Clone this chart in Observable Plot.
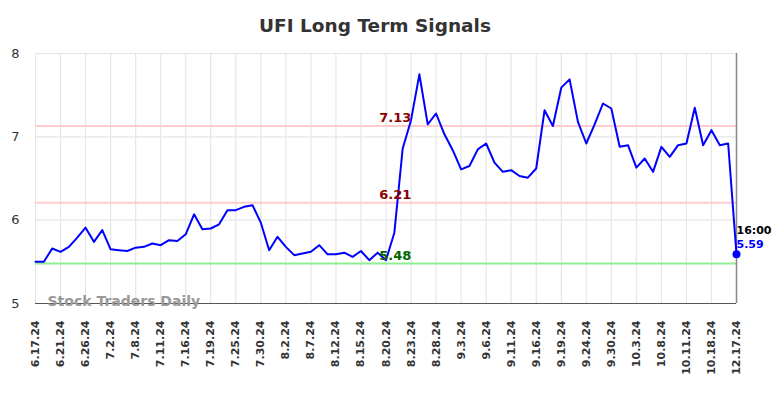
<!DOCTYPE html>
<html><head><meta charset="utf-8">
<script src="https://cdn.jsdelivr.net/npm/d3@7"></script>
<script src="https://cdn.jsdelivr.net/npm/@observablehq/plot@0.6"></script>
<style>
body{margin:0;background:#fff;font-family:"DejaVu Sans",sans-serif}
#wrap{position:relative;width:784px;height:398px}
#title{position:absolute;top:15px;left:0;width:750px;text-align:center;font-size:18.5px;font-weight:bold;color:#333;font-family:"DejaVu Sans",sans-serif}
#chart{position:absolute;top:0;left:0}
</style></head><body>
<div id="wrap"><div id="chart"></div><div id="title">UFI Long Term Signals</div></div>
<script>
const tickLabels = ["6.17.24","6.21.24","6.26.24","7.2.24","7.8.24","7.11.24","7.16.24","7.19.24","7.25.24","7.30.24","8.2.24","8.7.24","8.12.24","8.15.24","8.20.24","8.23.24","8.28.24","9.3.24","9.6.24","9.11.24","9.16.24","9.19.24","9.24.24","9.30.24","10.3.24","10.8.24","10.11.24","10.18.24","12.17.24"];
const values = [5.50,5.50,5.66,5.62,5.68,5.79,5.91,5.74,5.88,5.65,
5.64,5.63,5.67,5.68,5.72,5.70,5.76,5.75,5.83,6.07,
5.89,5.90,5.95,6.12,6.12,6.16,6.18,5.97,5.64,5.80,
5.68,5.58,5.60,5.62,5.70,5.59,5.59,5.61,5.56,5.63,
5.52,5.61,5.52,5.85,6.86,7.20,7.75,7.15,7.28,7.03,
6.84,6.61,6.65,6.85,6.92,6.69,6.58,6.60,6.53,6.51,
6.62,7.32,7.13,7.59,7.69,7.18,6.92,7.15,7.40,7.34,
6.88,6.90,6.63,6.74,6.58,6.88,6.76,6.90,6.92,7.35,
6.90,7.08,6.90,6.92,5.59];
const resistanceLevels = [7.13, 6.21];
const supportLevels = [5.48];
const yTicks = [5, 6, 7, 8];
const lastTime = "16:00";

const data = values.map((v, i) => ({i, v}));
const xTicks = tickLabels.map((_, k) => k * 3);
const last = data[data.length - 1];

const chart = Plot.plot({
  width: 784, height: 398,
  marginTop: 53, marginBottom: 95, marginLeft: 35, marginRight: 48,
  x: {domain: [0, values.length - 1]},
  y: {domain: [5, 8]},
  style: {fontFamily: "DejaVu Sans, sans-serif", background: "white"},
  marks: [
    Plot.gridX(xTicks, {stroke: "#e6e6e6", strokeOpacity: 1, strokeWidth: 1.2}),
    Plot.gridY(yTicks, {stroke: "#e6e6e6", strokeOpacity: 1, strokeWidth: 1.2}),
    Plot.ruleY(resistanceLevels, {stroke: "#ffcccc", strokeWidth: 2}),
    Plot.ruleY(supportLevels, {stroke: "#90ee90", strokeWidth: 2}),
    Plot.ruleY([5], {stroke: "#555", strokeWidth: 1.2}),
    Plot.ruleX([values.length - 1], {stroke: "#888", strokeWidth: 1.5}),
    Plot.lineY(data, {x: "i", y: "v", stroke: "#0000ff", strokeWidth: 2}),
    Plot.text(resistanceLevels, {x: 43.1, y: d => d, text: d => d.toFixed(2), dy: -8, fill: "#8b0000", fontWeight: "bold", fontSize: 13}),
    Plot.text(supportLevels, {x: 43.1, y: d => d, text: d => d.toFixed(2), dy: -8, fill: "#006400", fontWeight: "bold", fontSize: 13}),
    Plot.text(["Stock Traders Daily"], {frameAnchor: "bottom-left", dx: 12, dy: 2, text: d => d, fill: "#999", fontWeight: "bold", fontSize: 14, textAnchor: "start"}),
    Plot.dot([last], {x: "i", y: "v", r: 4, fill: "#0000ff"}),
    Plot.text([last], {x: "i", y: "v", text: () => lastTime, dx: 0, dy: -24, textAnchor: "start", fill: "#000", fontWeight: "bold", fontSize: 11}),
    Plot.text([last], {x: "i", y: "v", text: d => d.v.toFixed(2), dx: 0, dy: -10, textAnchor: "start", fill: "#0000ff", fontWeight: "bold", fontSize: 11}),
    Plot.axisX(xTicks, {tickRotate: -90, tickSize: 0, tickPadding: 17, tickFormat: d => tickLabels[d / 3], fontWeight: "bold", fontSize: 11, fill: "#333", label: null}),
    Plot.axisY(yTicks, {tickSize: 0, tickPadding: 16, tickFormat: d => String(d), fontSize: 13, fill: "#333", label: null})
  ]
});
document.getElementById("chart").appendChild(chart);
</script>
</body></html>
